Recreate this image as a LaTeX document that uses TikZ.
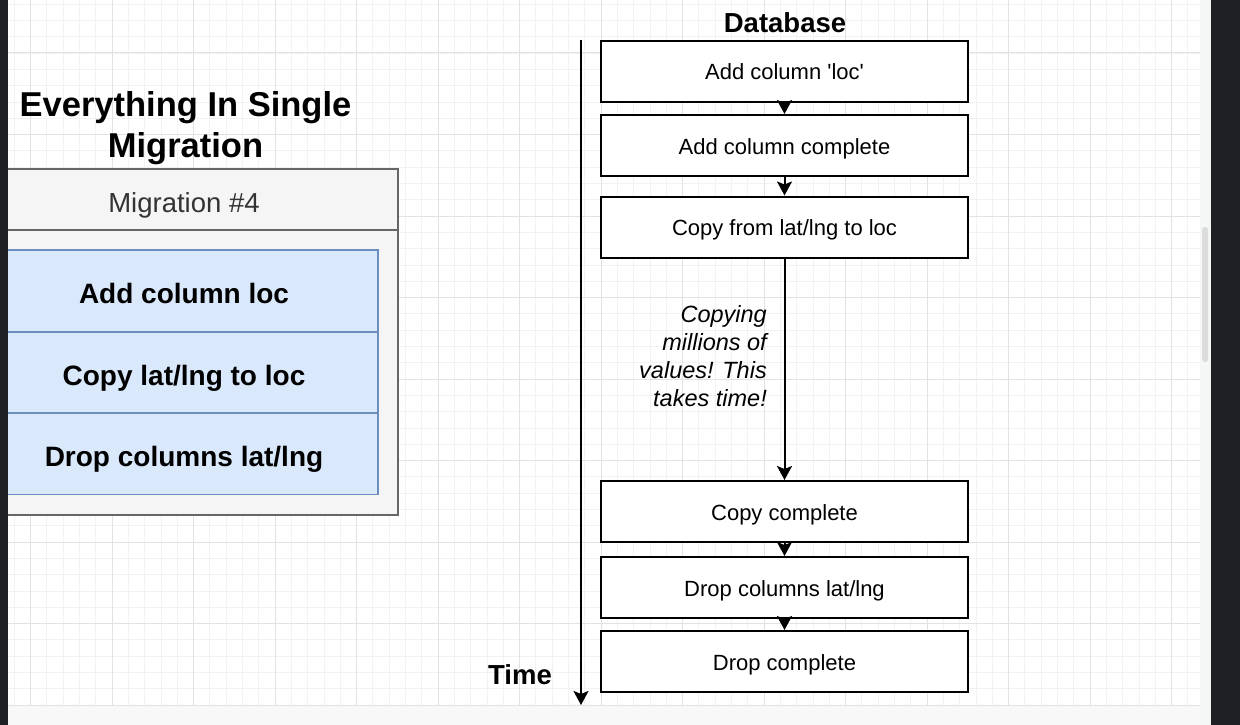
\documentclass[tikz,border=0pt]{standalone}
\usepackage{fontspec}
\setmainfont{Liberation Sans}
\usetikzlibrary{arrows.meta}
\definecolor{gridminor}{HTML}{F2F2F2}
\definecolor{gridmajor}{HTML}{E2E2E2}
\definecolor{swfill}{HTML}{F5F5F5}
\definecolor{swline}{HTML}{666666}
\definecolor{swtext}{HTML}{333333}
\definecolor{bluefill}{HTML}{DAE8FC}
\definecolor{blueline}{HTML}{6C8EBF}
\definecolor{darkbar}{HTML}{1F2023}
\definecolor{stripbg}{HTML}{F5F6F6}
\definecolor{thumbc}{HTML}{DCDCDC}
\definecolor{tabbg}{HTML}{F8F8F8}
\begin{document}
\begin{tikzpicture}[x=1pt,y=-1pt,
  stepbox/.style={draw=black, line width=2pt, fill=white, minimum width=367pt,
    minimum height=61pt, inner sep=0pt, font=\fontsize{22}{26}\selectfont,
    text height=17pt, text depth=0pt},
  rowbox/.style={draw=blueline, line width=1.5pt, fill=bluefill, minimum width=388pt,
    minimum height=81.5pt, inner sep=0pt, font=\fontsize{28}{32}\selectfont\bfseries,
    text height=26pt, text depth=0pt},
  lanebox/.style={draw=swline, line width=1.5pt, fill=swfill, minimum width=428pt, inner sep=0pt},
  arr/.style={line width=2pt, -{Stealth[length=14pt,width=15pt,inset=3pt]}},
  titletext/.style={font=\fontsize{34.5}{40}\selectfont\bfseries, inner sep=0pt, anchor=base},
  boldlabel/.style={font=\fontsize{27.5}{32}\selectfont\bfseries, inner sep=0pt, anchor=base},
  notetext/.style={font=\fontsize{23.5}{28}\selectfont\itshape, inner sep=0pt, anchor=base east}
]
\useasboundingbox (0,0) rectangle (1240,725);
\clip (0,0) rectangle (1240,725);
\fill[white] (0,0) rectangle (1240,725);
% grid
\foreach \i in {0,...,72} \draw[gridminor, line width=0.8pt] (14.2+16.3*\i,0) -- (14.2+16.3*\i,705);
\foreach \j in {0,...,43} \draw[gridminor, line width=0.8pt] (8,4.1+16.3*\j) -- (1200,4.1+16.3*\j);
\foreach \k in {0,...,14} \draw[gridmajor, line width=1pt] (30.5+81.5*\k,0) -- (30.5+81.5*\k,705);
\foreach \k in {0,...,8} \draw[gridmajor, line width=1pt] (8,53+81.5*\k) -- (1200,53+81.5*\k);
\fill[tabbg] (8,706) rectangle (1200,725);

% left: migration
\node[titletext] (title1) at (185.5,116.7) {Everything In Single};
\node[titletext] (title2) at (185.5,157) {Migration};
\node[lanebox, minimum height=346pt] (lane) at (184,342) {};
\node[lanebox, minimum height=61pt, font=\fontsize{27.5}{32}\selectfont, text=swtext,
      text height=25.7pt, text depth=0pt] (lanehead) at (184,199.5) {Migration \#4};
\node[rowbox] (r1) at (184,290.8) {Add column loc};
\node[rowbox] (r2) at (184,372.5) {Copy lat/lng to loc};
\node[rowbox] (r3) at (184,453.8) {Drop columns lat/lng};

% right: database timeline
\node[boldlabel] (db) at (785,32.7) {Database};
\node[stepbox] (b1) at (784.5,71.5) {Add column \textquotesingle loc\textquotesingle};
\node[stepbox] (b2) at (784.5,145.5) {Add column complete};
\node[stepbox] (b3) at (784.5,227) {Copy from lat/lng to loc};
\node[stepbox] (b4) at (784.5,511.5) {Copy complete};
\node[stepbox] (b5) at (784.5,587.5) {Drop columns lat/lng};
\node[stepbox] (b6) at (784.5,661.5) {Drop complete};
\draw[arr] (b1.south) -- (b2.north);
\draw[arr] (b2.south) -- (b3.north);
\draw[arr] (b3.south) -- (b4.north);
\draw[arr] (b4.south) -- (b5.north);
\draw[arr] (b5.south) -- (b6.north);

\node[notetext] (n1) at (767,322.7) {Copying};
\node[notetext] (n2) at (767,350.7) {millions of};
\node[notetext] (n3) at (767,378.7) {values! This};
\node[notetext] (n4) at (767,406.7) {takes time!};

\coordinate (t0) at (581,40.5);
\coordinate (t1) at (581,705);
\draw[arr] (t0) -- (t1);
\node[boldlabel] (time) at (520,684) {Time};

% window chrome
\fill[stripbg] (1200,0) rectangle (1211,725);
\fill[thumbc, rounded corners=2.5pt] (1202,227) rectangle (1208,362);
\fill[darkbar] (1211,0) rectangle (1240,725);
\fill[darkbar] (0,0) rectangle (8,725);
\end{tikzpicture}
\end{document}
